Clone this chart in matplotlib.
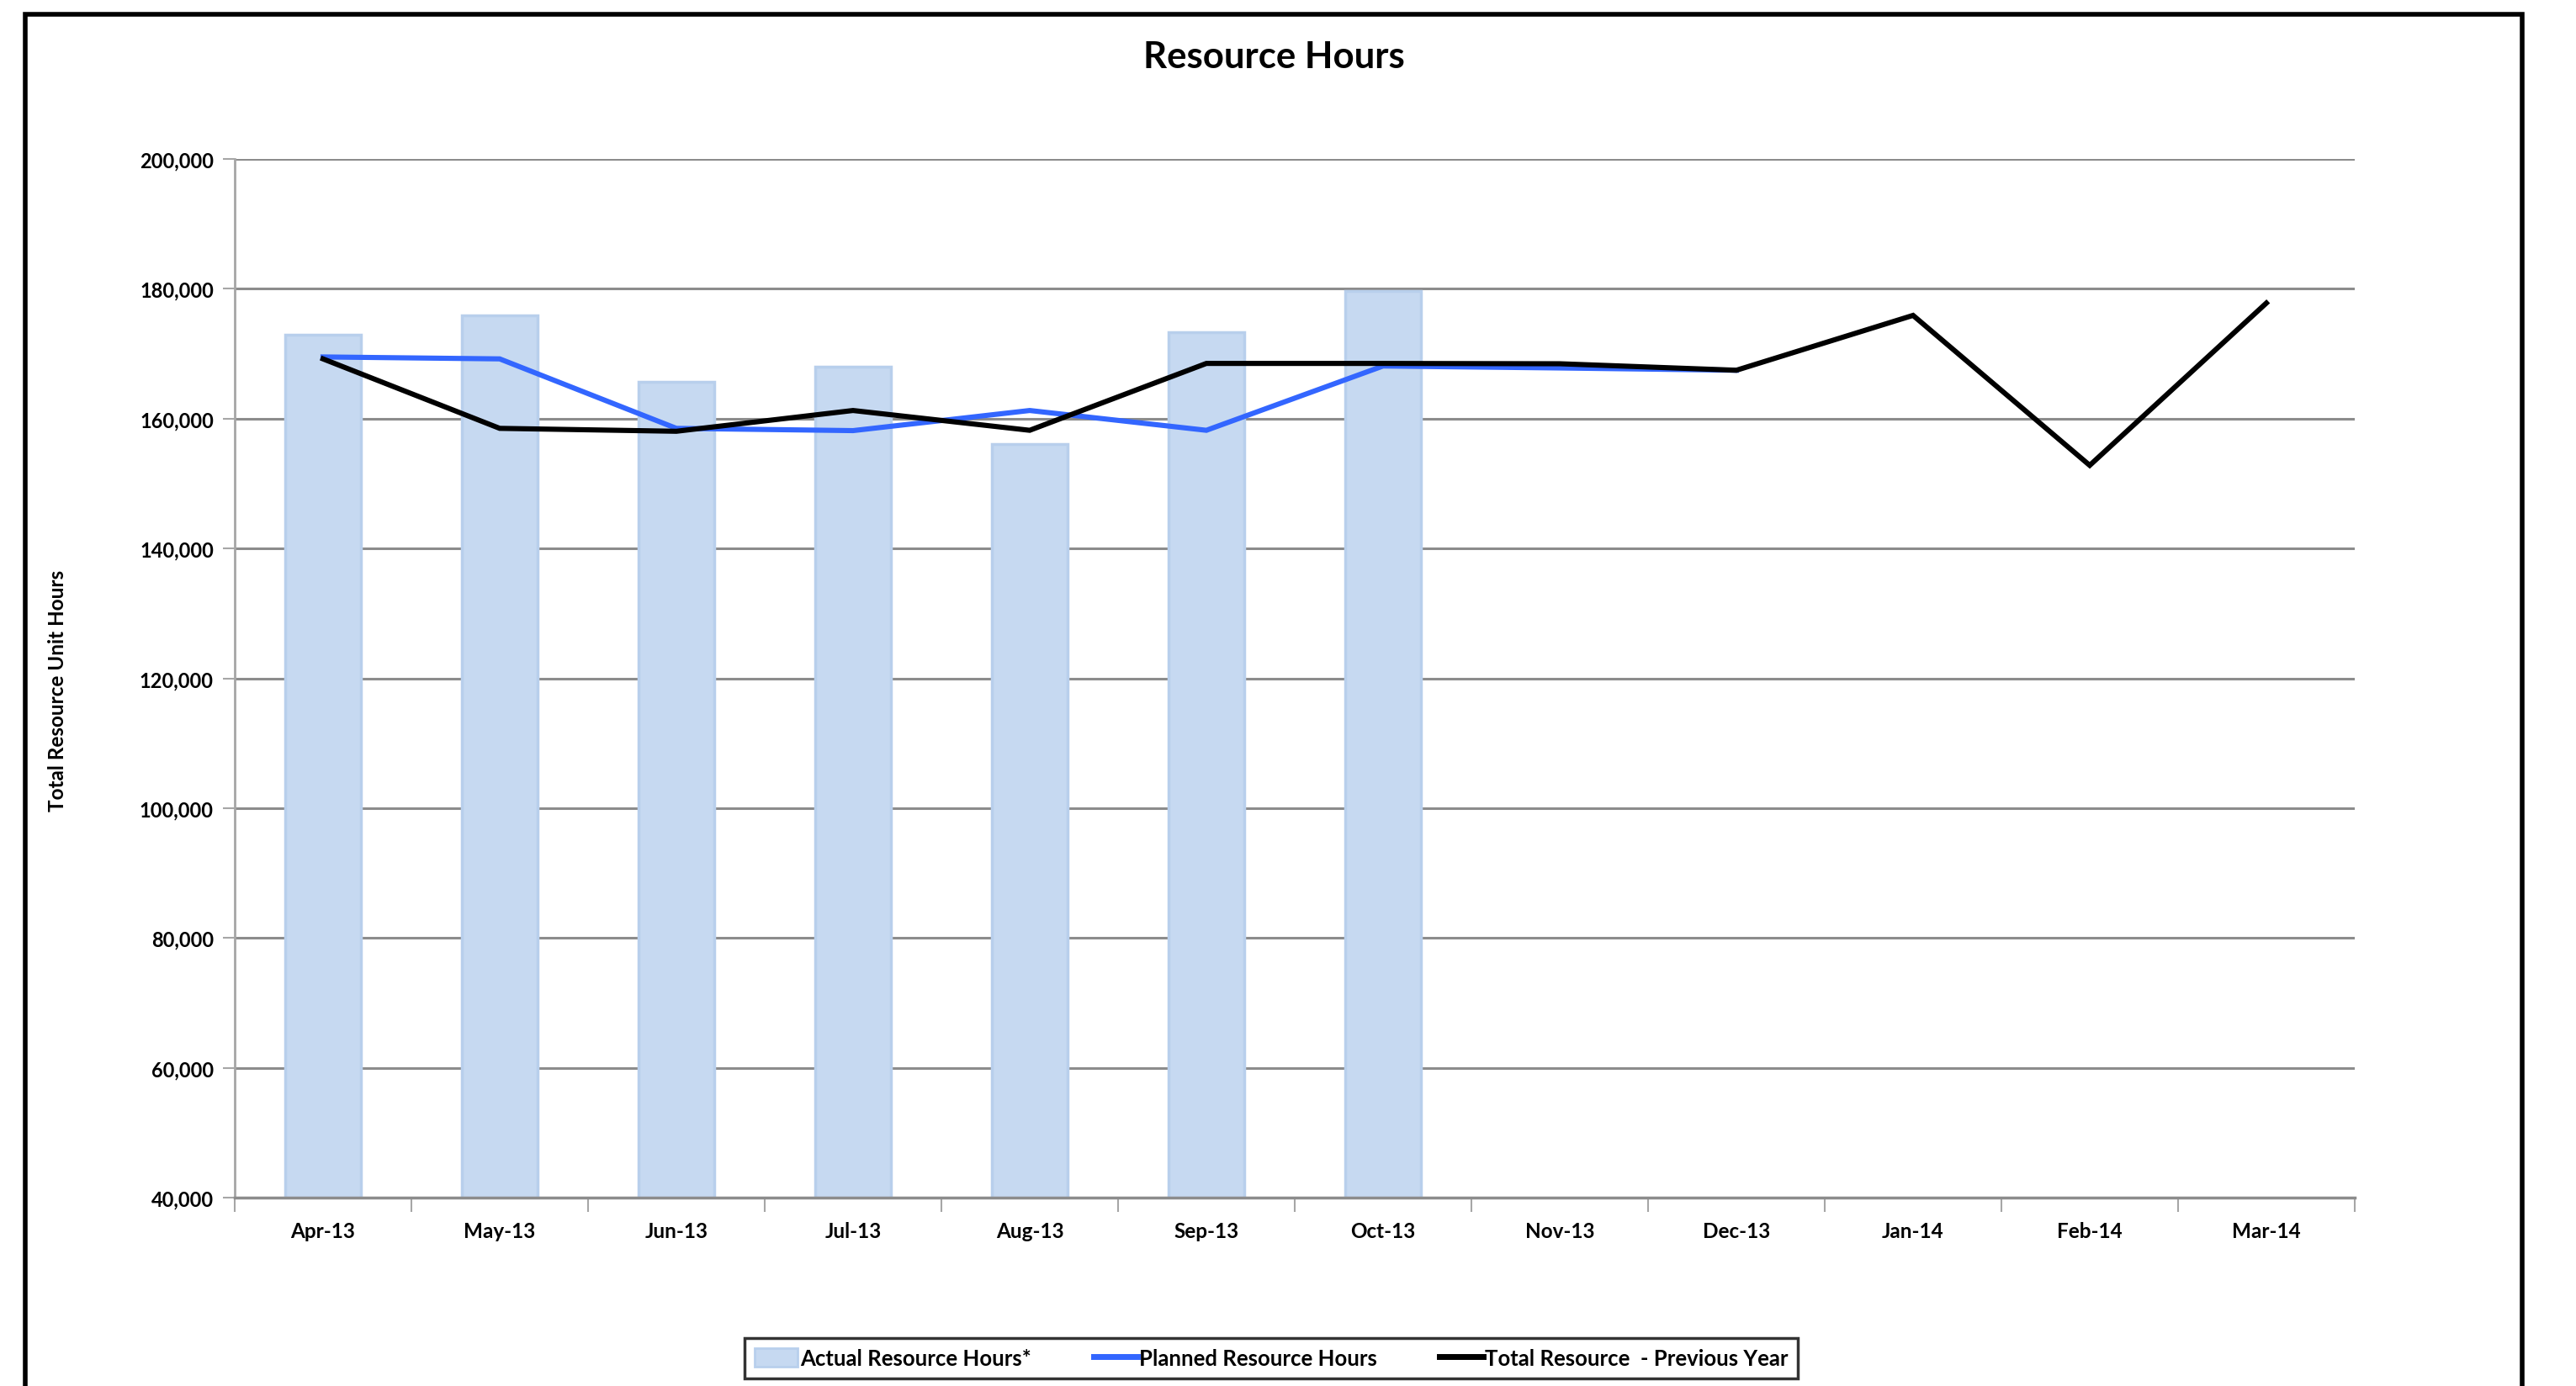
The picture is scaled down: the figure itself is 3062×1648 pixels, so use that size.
import matplotlib
matplotlib.use("Agg")
import matplotlib.pyplot as plt
from matplotlib.patches import Rectangle
from matplotlib.ticker import FuncFormatter, FixedLocator
from matplotlib.lines import Line2D
from matplotlib.patches import Patch

plt.rcParams['font.family'] = ['Lato', 'DejaVu Sans']
plt.rcParams['font.weight'] = 'bold'

# Monthly figures for the financial year
months = ['Apr-13', 'May-13', 'Jun-13', 'Jul-13', 'Aug-13', 'Sep-13',
          'Oct-13', 'Nov-13', 'Dec-13', 'Jan-14', 'Feb-14', 'Mar-14']
actual_hours = [172900, 175900, 165700, 168000, 156100, 173300, 179600]
planned_hours = [169500, 169200, 158500, 158150, 161250, 158200, 168100, 167800, 167450]
previous_year = [169200, 158500, 158050, 161250, 158200, 168500, 168500, 168450, 167450,
                 175900, 152800, 177800]

bar_color = '#C6D9F1'
bar_edge = '#B8CFEC'
planned_color = '#3366FF'
grid_color = '#8C8C8C'

fig = plt.figure(figsize=(30.62, 16.49), dpi=100)
ax = fig.add_axes([0.0911, 0.1358, 0.8230, 0.7490])

# Chart frame around everything
fig.patches.append(Rectangle((0.0098, -0.05), 0.9693, 1.039, transform=fig.transFigure,
                             fill=False, edgecolor='black', linewidth=4, zorder=0))

x_actual = range(len(actual_hours))
ax.bar(x_actual, actual_hours, width=0.43, color=bar_color, edgecolor=bar_edge,
       linewidth=2.5, zorder=2)
ax.plot(range(len(planned_hours)), planned_hours, color=planned_color, linewidth=4.4,
        solid_joinstyle='miter', zorder=3)
ax.plot(range(len(previous_year)), previous_year, color='black', linewidth=4.4,
        solid_joinstyle='miter', zorder=4)

ax.set_xlim(-0.5, len(months) - 0.5)
ax.set_ylim(40000, 200000)
ax.set_yticks(range(40000, 200001, 20000))
ax.yaxis.set_major_formatter(FuncFormatter(lambda v, p: f'{int(v):,}'))
ax.yaxis.grid(True, color=grid_color, linewidth=2.2, zorder=0)
ax.set_axisbelow(True)

ax.set_xticks(range(len(months)))
ax.set_xticklabels(months)
ax.xaxis.set_minor_locator(FixedLocator([i - 0.5 for i in range(len(months) + 1)]))
ax.tick_params(axis='x', which='major', length=0, pad=20, labelsize=17.5)
ax.tick_params(axis='x', which='minor', length=12, width=1.5, color='#A6A6A6')
ax.tick_params(axis='y', length=10, width=1.5, color='#A6A6A6', labelsize=17, pad=8)

for side in ['top', 'right']:
    ax.spines[side].set_visible(False)
ax.spines['left'].set_color('#A6A6A6')
ax.spines['left'].set_linewidth(2)
ax.spines['bottom'].set_color(grid_color)
ax.spines['bottom'].set_linewidth(2.5)

fig.text(0.4945, 0.959, 'Resource Hours', ha='center', va='center', fontsize=31.5,
         fontweight='bold')
fig.text(0.0225, 0.502, 'Total Resource Unit Hours', ha='center', va='center',
         rotation=90, fontsize=17.5, fontweight='bold')

handles = [
    Patch(facecolor=bar_color, edgecolor=bar_edge, linewidth=2),
    Line2D([], [], color=planned_color, linewidth=5),
    Line2D([], [], color='black', linewidth=5),
]
labels = ['Actual Resource Hours*', 'Planned Resource Hours', 'Total Resource  - Previous Year']
leg = fig.legend(handles, labels, loc='center', bbox_to_anchor=(0.4936, 0.02), ncol=3,
                 fontsize=18.5, frameon=True, fancybox=False, edgecolor='black',
                 handlelength=2.0, handleheight=0.9, handletextpad=0.1,
                 columnspacing=2.9, borderpad=0.45, borderaxespad=0)
leg.get_frame().set_linewidth(2.5)

fig.savefig('out.png', dpi=100)
